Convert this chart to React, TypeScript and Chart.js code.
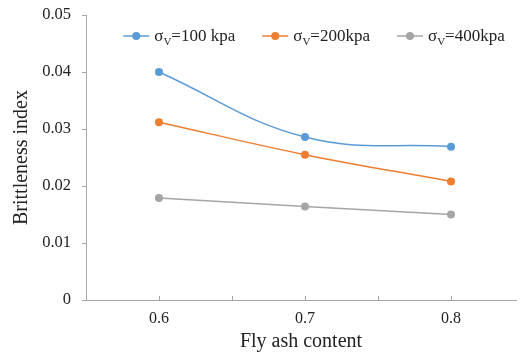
import React, { useEffect, useRef } from "react";
import { Chart, registerables } from "chart.js";

Chart.register(...registerables);

const flyAsh = [0.6, 0.7, 0.8];
const sigma100 = [0.04, 0.0286, 0.0269];
const sigma200 = [0.0312, 0.0255, 0.0208];
const sigma400 = [0.0179, 0.0164, 0.015];
const seriesLoads = ["100 kpa", "200kpa", "400kpa"];
const seriesColors = ["#5B9BD5", "#ED7D31", "#A5A5A5"];
const xLabelled = [0.6, 0.7, 0.8];

const AXIS = "#a6a6a6";
const FONT = "'Liberation Serif', 'Times New Roman', serif";

const insideTicks = {
  id: "insideTicks",
  afterDraw(chart: any) {
    const xs = chart.scales.x;
    const ctx = chart.ctx;
    ctx.save();
    ctx.strokeStyle = AXIS;
    ctx.lineWidth = 1;
    xs.ticks.forEach((t: any) => {
      const px = Math.round(xs.getPixelForValue(t.value)) + 0.5;
      ctx.beginPath();
      ctx.moveTo(px, xs.top);
      ctx.lineTo(px, xs.top - 4);
      ctx.stroke();
    });
    ctx.restore();
  },
};

const customLegend = {
  id: "customLegend",
  afterDraw(chart: any) {
    const ctx = chart.ctx;
    const y = 36;
    const lineLen = 26;
    const gapText = 5;
    const gapItem = 27;
    ctx.save();
    const mainFont = `17px ${FONT}`;
    const subFont = `11px ${FONT}`;
    const items = chart.data.datasets.map((ds: any, i: number) => {
      ctx.font = mainFont;
      const w1 = ctx.measureText("\u03C3").width;
      const w3 = ctx.measureText("=" + seriesLoads[i]).width;
      ctx.font = subFont;
      const w2 = ctx.measureText("V").width;
      return { ds, i, w1, w2, w3, total: lineLen + gapText + w1 + w2 + w3 };
    });
    const totalW =
      items.reduce((s: number, it: any) => s + it.total, 0) + gapItem * (items.length - 1);
    let x = 314 - totalW / 2;
    items.forEach((it: any) => {
      const c = it.ds.borderColor;
      ctx.strokeStyle = c;
      ctx.lineWidth = 1.5;
      ctx.beginPath();
      ctx.moveTo(x, y);
      ctx.lineTo(x + lineLen, y);
      ctx.stroke();
      ctx.fillStyle = c;
      ctx.beginPath();
      ctx.arc(x + lineLen / 2, y, 4, 0, Math.PI * 2);
      ctx.fill();
      let tx = x + lineLen + gapText;
      ctx.fillStyle = "#222";
      ctx.textBaseline = "alphabetic";
      ctx.textAlign = "left";
      ctx.font = mainFont;
      ctx.fillText("\u03C3", tx, y + 5);
      tx += it.w1;
      ctx.font = subFont;
      ctx.fillText("V", tx, y + 9);
      tx += it.w2;
      ctx.font = mainFont;
      ctx.fillText("=" + seriesLoads[it.i], tx, y + 5);
      x += it.total + gapItem;
    });
    ctx.restore();
  },
};

export default function App() {
  const ref = useRef<HTMLCanvasElement>(null);
  useEffect(() => {
    if (!ref.current) return;
    const series = [sigma100, sigma200, sigma400];
    const chart = new Chart(ref.current, {
      type: "line",
      data: {
        datasets: series.map((vals, i) => ({
          label: "\u03C3V=" + seriesLoads[i],
          data: flyAsh.map((x, j) => ({ x, y: vals[j] })),
          borderColor: seriesColors[i],
          backgroundColor: seriesColors[i],
          borderWidth: 1.5,
          pointRadius: 4,
          pointBorderWidth: 0,
          tension: 0.4,
          fill: false,
        })),
      },
      options: {
        animation: false,
        responsive: false,
        layout: { padding: { top: 15, right: 0, left: 0, bottom: 0 } },
        plugins: { legend: { display: false }, tooltip: { enabled: false } },
        scales: {
          x: {
            type: "linear",
            min: 0.55,
            max: 0.8445,
            afterFit: (s: any) => {
              s.height = 54;
            },
            ticks: {
              stepSize: 0.05,
              includeBounds: false,
              autoSkip: false,
              maxRotation: 0,
              padding: 1,
              color: "#222",
              font: { family: FONT, size: 16 },
              callback: (v: any) => {
                const n = Number(v);
                const hit = xLabelled.find((l) => Math.abs(l - n) < 1e-6);
                return hit !== undefined ? hit.toFixed(1) : "";
              },
            },
            grid: { display: false },
            border: { display: true, color: AXIS, width: 1 },
            title: {
              display: true,
              text: "Fly ash content",
              color: "#222",
              font: { family: FONT, size: 20 },
              padding: { top: 0, bottom: 0 },
            },
          },
          y: {
            min: 0,
            max: 0.05,
            afterFit: (s: any) => {
              s.width = 86;
              s.paddingTop = 0;
              s.paddingBottom = 0;
            },
            ticks: {
              stepSize: 0.01,
              padding: 11,
              color: "#222",
              font: { family: FONT, size: 16.5 },
              callback: (v: any) => (Number(v) === 0 ? "0" : Number(v).toFixed(2)),
            },
            grid: {
              display: true,
              drawOnChartArea: false,
              drawTicks: true,
              tickLength: 4,
              color: AXIS,
            },
            border: { display: true, color: AXIS, width: 1 },
            title: {
              display: true,
              text: "Brittleness index",
              color: "#222",
              font: { family: FONT, size: 20 },
              padding: { top: 10, bottom: 0 },
            },
          },
        },
      },
      plugins: [insideTicks, customLegend],
    });
    return () => chart.destroy();
  }, []);
  return (
    <div style={{ position: "absolute", left: 0, top: 0, width: 520, height: 354, background: "#fff" }}>
      <canvas ref={ref} width={520} height={354} style={{ display: "block" }} />
    </div>
  );
}
